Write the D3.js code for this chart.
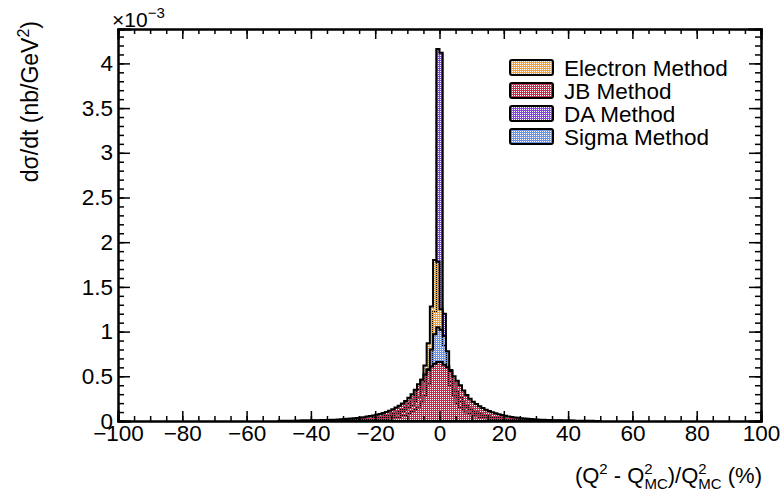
<!DOCTYPE html>
<html><head><meta charset="utf-8">
<script src="https://cdn.jsdelivr.net/npm/d3@7"></script>
<style>
body{margin:0;background:#fff;}
text{font-family:"Liberation Sans",Arial,Helvetica,sans-serif;fill:#000;}
</style></head>
<body>
<svg id="c" width="784" height="494"></svg>
<script>
// Bin edges of the stored range (1% wide bins)
const binStart = -50;
const binWidth = 1;
// Values in units of 1e-3 nb/GeV^2, bins [-50,-49] ... [49,50]
const electronValues = [
0.001,0.001,0.001,0.001,0.001,0.002,0.002,0.002,0.002,0.003, 0.003,0.003,0.004,0.004,0.005,0.005,0.006,0.007,0.008,0.009,
0.010,0.011,0.013,0.015,0.017,0.019,0.022,0.025,0.029,0.034, 0.039,0.045,0.052,0.060,0.069,0.080,0.094,0.110,0.130,0.160,
0.190,0.230,0.280,0.350,0.460,0.620,0.870,1.280,1.800,
1.780,1.250,0.850,0.600,0.440,0.340,0.270,0.220,0.180,0.150, 0.125,0.105,0.090,0.077,0.066,0.057,0.049,0.042,0.036,0.031,
0.027,0.023,0.020,0.017,0.015,0.013,0.011,0.010,0.009,0.008, 0.007,0.006,0.005,0.005,0.004,0.004,0.003,0.003,0.003,0.002,
0.002,0.002,0.002,0.001,0.001,0.001,0.001,0.001,0.001,0.001,0.001];
const jbValues = [
0.002,0.002,0.002,0.003,0.003,0.004,0.004,0.005,0.005,0.006, 0.007,0.008,0.009,0.010,0.011,0.012,0.013,0.015,0.017,0.019,
0.021,0.024,0.027,0.030,0.034,0.038,0.043,0.049,0.055,0.062, 0.070,0.079,0.090,0.102,0.116,0.132,0.150,0.170,0.195,0.225,
0.260,0.300,0.350,0.410,0.460,0.520,0.570,0.610,0.640,0.660,
0.660,0.630,0.600,0.560,0.500,0.450,0.400,0.340,0.290,0.250, 0.215,0.190,0.165,0.145,0.127,0.112,0.098,0.086,0.075,0.066,
0.058,0.051,0.045,0.040,0.035,0.031,0.027,0.024,0.021,0.019, 0.017,0.015,0.013,0.011,0.010,0.009,0.008,0.007,0.006,0.005,
0.005,0.004,0.004,0.003,0.003,0.002,0.002,0.002,0.001,0.001];
const daValues = [
0,0,0,0,0,0.001,0.001,0.001,0.001,0.001, 0.001,0.001,0.001,0.001,0.001,0.002,0.002,0.002,0.002,0.003,
0.003,0.004,0.004,0.005,0.006,0.007,0.008,0.009,0.010,0.012, 0.014,0.016,0.019,0.023,0.027,0.032,0.038,0.046,0.055,0.066,
0.080,0.100,0.125,0.160,0.210,0.290,0.410,0.630,1.220,4.160,
4.120,1.200,0.620,0.400,0.280,0.200,0.150,0.120,0.095,0.078, 0.064,0.053,0.044,0.037,0.031,0.026,0.022,0.018,0.015,0.013,
0.011,0.009,0.008,0.007,0.006,0.005,0.004,0.004,0.003,0.003, 0.003,0.002,0.002,0.002,0.002,0.001,0.001,0.001,0.001,0.001,
0.001,0.001,0.001,0.001,0.001,0,0,0,0,0];
const sigmaValues = [
0.001,0.001,0.001,0.001,0.001,0.001,0.001,0.002,0.002,0.002, 0.002,0.003,0.003,0.003,0.004,0.004,0.005,0.005,0.006,0.007,
0.008,0.009,0.010,0.011,0.013,0.015,0.017,0.019,0.022,0.025, 0.029,0.034,0.040,0.046,0.053,0.062,0.073,0.085,0.100,0.120,
0.145,0.180,0.220,0.270,0.340,0.440,0.580,0.800,0.970,1.050,
1.020,0.950,0.780,0.570,0.430,0.330,0.260,0.210,0.170,0.140, 0.115,0.097,0.082,0.070,0.060,0.051,0.044,0.038,0.033,0.028,
0.024,0.021,0.018,0.016,0.014,0.012,0.010,0.009,0.008,0.007, 0.006,0.005,0.005,0.004,0.004,0.003,0.003,0.003,0.002,0.002,
0.002,0.002,0.001,0.001,0.001,0.001,0.001,0.001,0.001,0.001];
const seriesNames = ["Electron Method","JB Method","DA Method","Sigma Method"];
const seriesColors = ["#eca444","#c22d50","#8646de","#6d94e4"];
const xTicks = [-100,-80,-60,-40,-20,0,20,40,60,80,100];
const yTicks = [0,0.5,1,1.5,2,2.5,3,3.5,4];

const seriesValues = [electronValues, jbValues, daValues, sigmaValues];
seriesValues.forEach((a,i)=>{ if(a.length>100) seriesValues[i]=a.slice(0,100); });

const svg = d3.select("#c");
const L=118, R=761, T=29, B=421;
const yMax = d3.max(seriesValues.flat())*1.054;
const x = d3.scaleLinear().domain([-100,100]).range([L,R]);
const y = d3.scaleLinear().domain([0,yMax]).range([B,T]);

const defs = svg.append("defs");
seriesColors.forEach((c,i)=>{
  const p = defs.append("pattern").attr("id","pat"+i).attr("width",2).attr("height",2)
    .attr("patternUnits","userSpaceOnUse");
  p.append("rect").attr("x",0).attr("y",0).attr("width",2).attr("height",1).attr("fill",c);
  p.append("rect").attr("x",1).attr("y",1).attr("width",1).attr("height",1).attr("fill",c);
});
defs.append("clipPath").attr("id","clip").append("rect")
  .attr("x",L).attr("y",T).attr("width",R-L).attr("height",B-T);

function histPath(vals){
  const p = d3.path();
  p.moveTo(x(binStart), y(0));
  vals.forEach((v,i)=>{
    const lo = binStart + i*binWidth, hi = lo + binWidth;
    p.lineTo(x(lo), y(v)); p.lineTo(x(hi), y(v));
  });
  p.lineTo(x(binStart + vals.length*binWidth), y(0));
  p.closePath();
  return p.toString();
}

const g = svg.append("g").attr("clip-path","url(#clip)");
// drawing order: DA, Electron, Sigma, JB
[2,0,3,1].forEach(i=>{
  g.append("path").attr("d",histPath(seriesValues[i]))
    .attr("fill","url(#pat"+i+")").attr("stroke","#000").attr("stroke-width",2)
    .attr("stroke-linejoin","miter");
});

function styleAxis(sel, w){
  sel.select(".domain").attr("stroke","#000").attr("stroke-width",w);
  sel.selectAll(".tick line").attr("stroke","#000").attr("stroke-width",1.5);
}
const xMinor = d3.range(-100,101,5);
const yMinor = d3.range(0,4.35,0.1);
styleAxis(svg.append("g").attr("transform",`translate(0,${B})`)
  .call(d3.axisBottom(x).tickValues(xMinor).tickSize(-5).tickFormat("")),2);
styleAxis(svg.append("g").attr("transform",`translate(0,${T})`)
  .call(d3.axisTop(x).tickValues(xMinor).tickSize(-5).tickFormat("")),2);
styleAxis(svg.append("g").attr("transform",`translate(${L},0)`)
  .call(d3.axisLeft(y).tickValues(yMinor).tickSize(-6).tickFormat("")),2);
styleAxis(svg.append("g").attr("transform",`translate(${R},0)`)
  .call(d3.axisRight(y).tickValues(yMinor).tickSize(-6).tickFormat("")),2);
const axB = svg.append("g").attr("transform",`translate(0,${B})`)
  .call(d3.axisBottom(x).tickValues(xTicks).tickSize(-10).tickPadding(4).tickFormat(d3.format("d")));
styleAxis(axB,2);
axB.selectAll("text").attr("font-size",22.5).attr("font-family",null);
styleAxis(svg.append("g").attr("transform",`translate(0,${T})`)
  .call(d3.axisTop(x).tickValues(xTicks).tickSize(-10).tickFormat("")),2);
const axL = svg.append("g").attr("transform",`translate(${L},0)`)
  .call(d3.axisLeft(y).tickValues(yTicks).tickSize(-12).tickPadding(5).tickFormat(d3.format("~g")));
styleAxis(axL,2);
axL.selectAll("text").attr("font-size",22.5).attr("font-family",null);
styleAxis(svg.append("g").attr("transform",`translate(${R},0)`)
  .call(d3.axisRight(y).tickValues(yTicks).tickSize(-12).tickFormat("")),2);
svg.selectAll(".domain").attr("stroke-linecap","square");

// exponent label
const ex = svg.append("text").attr("x",112).attr("y",27).attr("font-size",21);
ex.append("tspan").text("×10");
ex.append("tspan").attr("dy",-9).attr("font-size",15).text("−3");

// y title
const yt = svg.append("text").attr("transform","translate(38,21) rotate(-90)")
  .attr("text-anchor","end").attr("font-size",23);
yt.append("tspan").text("dσ/dt (nb/GeV");
yt.append("tspan").attr("dy",-9).attr("font-size",16).text("2");
yt.append("tspan").attr("dy",9).text(")");

// x title
const xt = svg.append("text").attr("x",572).attr("y",483).attr("font-size",22);
xt.append("tspan").text("(Q");
xt.append("tspan").attr("dy",-9).attr("font-size",15).text("2");
xt.append("tspan").attr("dy",15).attr("dx",-8.3).attr("font-size",15).text("MC").attr("visibility","hidden");
xt.selectAll("tspan").filter((d,i)=>i===2).remove();
xt.append("tspan").attr("dy",9).text(" - Q");
xt.append("tspan").attr("dy",-9).attr("font-size",15).text("2");
xt.append("tspan").attr("dy",15).attr("dx",-8.3).attr("font-size",15).text("MC");
xt.append("tspan").attr("dy",-6).text(")/Q");
xt.append("tspan").attr("dy",-9).attr("font-size",15).text("2");
xt.append("tspan").attr("dy",15).attr("dx",-8.3).attr("font-size",15).text("MC");
xt.append("tspan").attr("dy",-6).text(" (%)");
const bb = xt.node().getBBox();
xt.attr("x", 572 + (R+1 - (bb.x+bb.width)));

// legend
const lg = svg.append("g");
const rowY = [60,83,106,129];
seriesNames.forEach((n,i)=>{
  lg.append("rect").attr("x",510).attr("y",rowY[i]).attr("width",43).attr("height",15)
    .attr("rx",2).attr("fill","url(#pat"+i+")").attr("stroke","#000").attr("stroke-width",2);
  lg.append("text").attr("x",564).attr("y",rowY[i]+15.5).attr("font-size",22.5).text(n);
});
</script>
</body></html>
